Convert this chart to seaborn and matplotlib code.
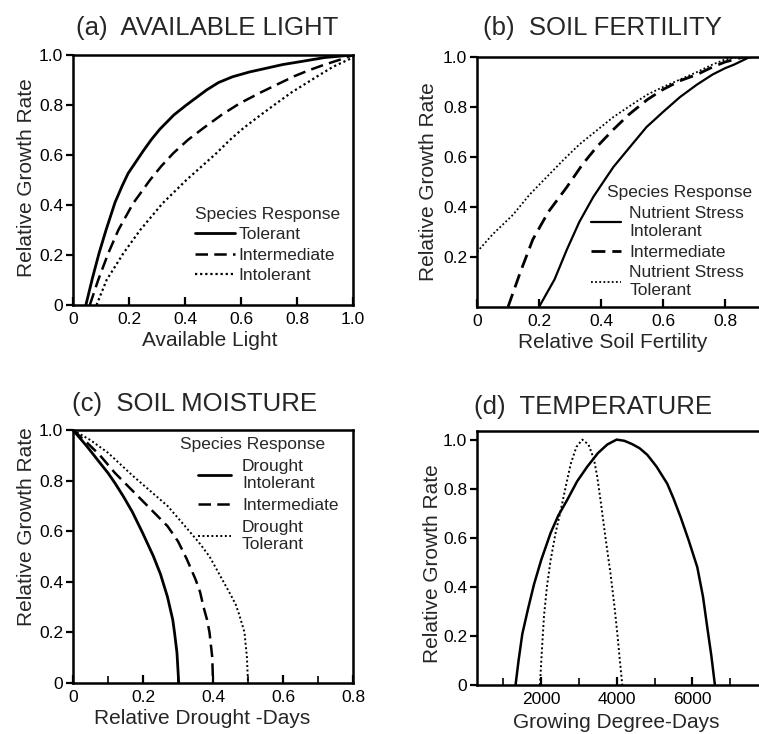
import matplotlib
matplotlib.use("Agg")
import matplotlib.pyplot as plt
from matplotlib.ticker import MultipleLocator, FixedLocator
import seaborn as sns

# (a) Available light
light_tol_x = [0.046, 0.07, 0.093, 0.118, 0.15, 0.175, 0.197, 0.22, 0.25, 0.28, 0.31, 0.36, 0.405, 0.477,
               0.52, 0.57, 0.63, 0.69, 0.75, 0.81, 0.9, 1.0]
light_tol_y = [0.0, 0.11, 0.207, 0.30, 0.41, 0.475, 0.527, 0.565, 0.615, 0.662, 0.703, 0.76, 0.80, 0.86,
               0.89, 0.913, 0.932, 0.947, 0.962, 0.973, 0.99, 1.0]
light_int_x = [0.06, 0.09, 0.126, 0.162, 0.215, 0.275, 0.315, 0.358, 0.41, 0.465, 0.53, 0.596, 0.67, 0.738,
               0.79, 0.845, 0.9, 0.95, 1.0]
light_int_y = [0.0, 0.10, 0.207, 0.30, 0.407, 0.50, 0.555, 0.607, 0.66, 0.707, 0.76, 0.807, 0.85, 0.887,
               0.915, 0.94, 0.962, 0.98, 1.0]
light_intol_x = [0.084, 0.12, 0.18, 0.24, 0.32, 0.405, 0.46, 0.512, 0.56, 0.608, 0.67, 0.727, 0.78, 0.833,
                 0.88, 0.929, 1.0]
light_intol_y = [0.0, 0.10, 0.207, 0.30, 0.407, 0.50, 0.555, 0.607, 0.66, 0.707, 0.76, 0.807, 0.85, 0.887,
                 0.92, 0.953, 0.99]

# (b) Soil fertility
soil_intol_x = [0.2, 0.25, 0.29, 0.33, 0.375, 0.41, 0.44, 0.5, 0.547, 0.6, 0.655, 0.71, 0.76, 0.8, 0.83,
                0.86, 0.88, 1.0]
soil_intol_y = [0.0, 0.11, 0.23, 0.34, 0.44, 0.505, 0.56, 0.65, 0.72, 0.78, 0.84, 0.89, 0.93, 0.955, 0.97,
                0.988, 1.0, 1.0]
soil_int_x = [0.1, 0.14, 0.18, 0.23, 0.29, 0.34, 0.386, 0.44, 0.49, 0.55, 0.6, 0.655, 0.71, 0.76, 0.8,
              0.86, 1.0]
soil_int_y = [0.0, 0.14, 0.27, 0.38, 0.48, 0.57, 0.64, 0.71, 0.77, 0.83, 0.87, 0.905, 0.93, 0.96, 0.98,
              1.0, 1.0]
soil_tol_x = [0.0, 0.05, 0.117, 0.17, 0.225, 0.28, 0.33, 0.39, 0.44, 0.5, 0.55, 0.6, 0.655, 0.71, 0.76,
              0.8, 0.84, 1.0]
soil_tol_y = [0.22, 0.29, 0.37, 0.45, 0.52, 0.59, 0.65, 0.71, 0.76, 0.81, 0.85, 0.88, 0.91, 0.94, 0.97,
              0.99, 1.0, 1.0]

# (c) Soil moisture
dry_intol_x = [0.0, 0.04, 0.077, 0.1, 0.12, 0.145, 0.17, 0.2, 0.23, 0.25, 0.27, 0.285, 0.29, 0.297, 0.3,
               0.302]
dry_intol_y = [1.0, 0.935, 0.87, 0.83, 0.79, 0.735, 0.675, 0.59, 0.50, 0.43, 0.34, 0.25, 0.20, 0.12, 0.05,
               0.0]
dry_int_x = [0.0, 0.04, 0.077, 0.12, 0.17, 0.22, 0.27, 0.3, 0.325, 0.35, 0.363, 0.373, 0.383, 0.39, 0.398,
             0.4]
dry_int_y = [1.0, 0.95, 0.90, 0.83, 0.76, 0.69, 0.62, 0.56, 0.49, 0.41, 0.36, 0.30, 0.25, 0.20, 0.10, 0.0]
dry_tol_x = [0.0, 0.05, 0.1, 0.17, 0.22, 0.27, 0.32, 0.363, 0.39, 0.41, 0.43, 0.45, 0.465, 0.475, 0.49,
             0.497, 0.5]
dry_tol_y = [1.0, 0.96, 0.91, 0.82, 0.76, 0.70, 0.62, 0.55, 0.50, 0.45, 0.40, 0.35, 0.31, 0.27, 0.20, 0.10,
             0.0]

# (d) Temperature
gdd_wide_x = [1320, 1400, 1499, 1650, 1808, 2000, 2249, 2450, 2690, 2950, 3219, 3500, 3748, 3995, 4200,
              4400, 4600, 4806, 5050, 5335, 5500, 5688, 5900, 6129, 6280, 6393, 6500, 6595]
gdd_wide_y = [0.0, 0.10, 0.208, 0.31, 0.41, 0.51, 0.62, 0.69, 0.755, 0.83, 0.89, 0.945, 0.98, 1.0, 0.995,
              0.982, 0.965, 0.938, 0.89, 0.82, 0.76, 0.684, 0.59, 0.48, 0.36, 0.235, 0.12, 0.0]
gdd_narrow_x = [1966, 2020, 2072, 2150, 2249, 2380, 2513, 2650, 2778, 2930, 3087, 3250, 3395, 3480, 3571,
                3700, 3836, 3930, 4013, 4080, 4145]
gdd_narrow_y = [0.0, 0.15, 0.28, 0.40, 0.51, 0.62, 0.71, 0.81, 0.90, 0.97, 1.0, 0.98, 0.92, 0.85, 0.75,
                0.60, 0.45, 0.33, 0.21, 0.10, 0.0]

light_labels = ["Tolerant", "Intermediate", "Intolerant"]
soil_labels = ["Nutrient Stress\nIntolerant", "Intermediate", "Nutrient Stress\nTolerant"]
dry_labels = ["Drought\nIntolerant", "Intermediate", "Drought\nTolerant"]

sns.set_theme(style="ticks")
plt.rcParams["font.family"] = ["Liberation Sans", "DejaVu Sans"]

W, H = 759, 734
fig = plt.figure(figsize=(W / 100, H / 100), dpi=100)

SOLID = "-"
DASH = (0, (5, 2.5))
DOT = (0, (1, 1.3))
LEG_FS = 12.5


def make_axes(left, right, top, bottom):
    return fig.add_axes([left / W, 1 - bottom / H, (right - left) / W, (bottom - top) / H])


def style_axes(ax):
    for s in ax.spines.values():
        s.set_linewidth(1.8)
        s.set_color("black")
    ax.tick_params(axis="y", direction="out", length=5, width=1.6, labelsize=12.5, pad=2, colors="black")
    ax.tick_params(axis="x", direction="in", length=6, width=1.6, labelsize=12.5, pad=5, colors="black")
    ax.tick_params(axis="x", which="minor", direction="in", length=5, width=1.4)
    ax.set_ylim(0, 1.0)


def draw(ax, xs, ys, ls, lw, label=None):
    sns.lineplot(x=xs, y=ys, ax=ax, color="black", linestyle=ls, linewidth=lw,
                 estimator=None, sort=False, label=label)


def legend(ax, x, y, hl, pad, spacing, bpad, line_sp=1.2, title_shift=0):
    leg = ax.legend(loc="upper left", bbox_to_anchor=(x / W, 1 - y / H),
                    bbox_transform=fig.transFigure, frameon=False, title="Species Response",
                    fontsize=LEG_FS, title_fontsize=LEG_FS, handlelength=hl, handletextpad=pad,
                    labelspacing=spacing, borderpad=bpad, borderaxespad=0, alignment="left")
    for t in leg.get_texts():
        t.set_linespacing(line_sp)
    for h in leg.get_lines():
        h.set_color("black")
    leg.get_title().set_position((title_shift, 0))
    return leg


def ylabel(ax, text, x_px, y_px, left, top, w, h):
    ax.set_ylabel(text, fontsize=15)
    ax.yaxis.set_label_coords((x_px - left) / w, (top + h - y_px) / h)
    ax.yaxis.label.set_va("center")


def xlabel(ax, text, x_px, y_px, left, top, w, h):
    ax.set_xlabel(text, fontsize=15)
    ax.xaxis.set_label_coords((x_px - left) / w, (top + h - y_px) / h)
    ax.xaxis.label.set_va("center")


# ---- (a) available light
axa = make_axes(73, 353, 55, 305)
style_axes(axa)
draw(axa, light_tol_x, light_tol_y, SOLID, 2.0, light_labels[0])
draw(axa, light_int_x, light_int_y, DASH, 1.8, light_labels[1])
draw(axa, light_intol_x, light_intol_y, DOT, 1.6, light_labels[2])
axa.set_xlim(0, 1.0)
axa.set_xticks([0, 0.2, 0.4, 0.6, 0.8, 1.0])
axa.set_xticklabels(["0", "0.2", "0.4", "0.6", "0.8", "1.0"])
axa.set_yticks([0, 0.2, 0.4, 0.6, 0.8, 1.0])
axa.set_yticklabels(["0", "0.2", "0.4", "0.6", "0.8", "1.0"])
legend(axa, 181, 193, hl=2.3, pad=0.2, spacing=0.3, bpad=0.8)
xlabel(axa, "Available Light", 210, 340, 73, 55, 280, 250)
ylabel(axa, "Relative Growth Rate", 26, 178, 73, 55, 280, 250)
fig.text(207 / W, 1 - 28 / H, "(a)  AVAILABLE LIGHT", ha="center", va="center", fontsize=18.5)

# ---- (b) soil fertility
axb = make_axes(477, 787, 57, 307)
style_axes(axb)
draw(axb, soil_intol_x, soil_intol_y, SOLID, 1.6, soil_labels[0])
draw(axb, soil_int_x, soil_int_y, DASH, 2.0, soil_labels[1])
draw(axb, soil_tol_x, soil_tol_y, DOT, 1.3, soil_labels[2])
axb.set_xlim(0, 1.0)
axb.set_xticks([0, 0.2, 0.4, 0.6, 0.8])
axb.set_xticklabels(["0", "0.2", "0.4", "0.6", "0.8"])
axb.set_yticks([0.2, 0.4, 0.6, 0.8, 1.0])
axb.set_yticklabels(["0.2", "0.4", "0.6", "0.8", "1.0"])
legend(axb, 585, 179, hl=1.75, pad=0.45, spacing=0.33, bpad=0.35, line_sp=1.25, title_shift=16)
xlabel(axb, "Relative Soil Fertility", 613, 342, 477, 57, 310, 250)
ylabel(axb, "Relative Growth Rate", 429, 182, 477, 57, 310, 250)
fig.text(602 / W, 1 - 28 / H, "(b)  SOIL FERTILITY", ha="center", va="center", fontsize=18.5)

# ---- (c) soil moisture
axc = make_axes(73, 353, 430, 683)
style_axes(axc)
draw(axc, dry_intol_x, dry_intol_y, SOLID, 2.0, dry_labels[0])
draw(axc, dry_int_x, dry_int_y, DASH, 1.8, dry_labels[1])
draw(axc, dry_tol_x, dry_tol_y, DOT, 1.4, dry_labels[2])
axc.set_xlim(0, 0.8)
axc.set_xticks([0, 0.2, 0.4, 0.6, 0.8])
axc.set_xticklabels(["0", "0.2", "0.4", "0.6", "0.8"])
axc.xaxis.set_minor_locator(MultipleLocator(0.1))
axc.set_yticks([0, 0.2, 0.4, 0.6, 0.8, 1.0])
axc.set_yticklabels(["0", "0.2", "0.4", "0.6", "0.8", "1.0"])
legend(axc, 182, 421, hl=1.85, pad=0.65, spacing=0.4, bpad=0.95, line_sp=1.15, title_shift=-18)
xlabel(axc, "Relative Drought -Days", 202, 719, 73, 430, 280, 253)
ylabel(axc, "Relative Growth Rate", 26, 527, 73, 430, 280, 253)
fig.text(194 / W, 1 - 404 / H, "(c)  SOIL MOISTURE", ha="center", va="center", fontsize=18.5)

# ---- (d) temperature
axd = make_axes(477, 768, 431, 685)
style_axes(axd)
draw(axd, gdd_wide_x, gdd_wide_y, SOLID, 1.8)
draw(axd, gdd_narrow_x, gdd_narrow_y, DOT, 1.4)
axd.set_xlim(300, 8000)
axd.set_ylim(0, 1.035)
axd.xaxis.set_major_locator(FixedLocator([2000, 4000, 6000]))
axd.xaxis.set_minor_locator(FixedLocator([1000, 3000, 5000, 7000]))
axd.set_xticklabels(["2000", "4000", "6000"])
axd.set_yticks([0, 0.2, 0.4, 0.6, 0.8, 1.0])
axd.set_yticklabels(["0", "0.2", "0.4", "0.6", "0.8", "1.0"])
xlabel(axd, "Growing Degree-Days", 616, 722, 477, 431, 291, 254)
ylabel(axd, "Relative Growth Rate", 433, 564, 477, 431, 291, 254)
fig.text(593 / W, 1 - 407 / H, "(d)  TEMPERATURE", ha="center", va="center", fontsize=18.5)

fig.savefig("out.png", dpi=100, facecolor="white")
